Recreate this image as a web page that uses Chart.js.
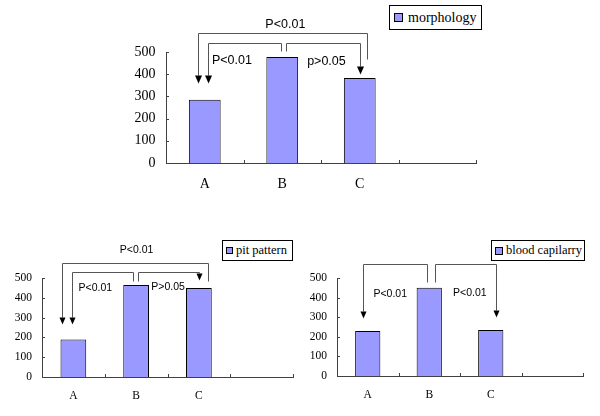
<!DOCTYPE html>
<html lang="en">
<head>
<meta charset="UTF-8">
<title>morphology / pit pattern / blood capilarry</title>
<script src="https://cdn.jsdelivr.net/npm/chart.js"></script>
<style>
  body { margin: 0; width: 600px; height: 416px; background: #fff; position: relative; overflow: hidden; font-family: "Liberation Serif", serif; }
  canvas { position: absolute; }
  .legend { position: absolute; border: 1px solid #000; background: #fff; box-sizing: border-box; display: flex; align-items: center; color: #000; white-space: nowrap; }
  .legend i { display: inline-block; background: #9999ff; border: 1px solid #000; box-sizing: border-box; }
</style>
</head>
<body>
<canvas id="morphologyChart" width="400" height="200" style="left:100px;top:0"></canvas>
<canvas id="pitChart" width="300" height="186" style="left:0;top:230px"></canvas>
<canvas id="capillaryChart" width="300" height="186" style="left:300px;top:230px"></canvas>

<div class="legend" style="left:389px;top:5px;width:93px;height:25px;font-size:14px;padding-left:4px">
  <i style="width:9px;height:9px;margin-right:5px"></i>morphology</div>
<div class="legend" style="left:222px;top:240px;width:71px;height:21px;font-size:12.5px;padding-left:3px">
  <i style="width:7px;height:7px;margin-right:3px"></i>pit pattern</div>
<div class="legend" style="left:491px;top:240px;width:94px;height:21px;font-size:12.5px;padding-left:3px">
  <i style="width:8px;height:8px;margin-right:3px"></i>blood capilarry</div>

<script>
// data
const categories = ['A', 'B', 'C', ''];
const morphologyValues = [285, 478, 383, null];
const pitPatternValues = [190, 465, 450, null];
const capillaryValues = [230, 450, 235, null];
const yMin = 0, yMax = 500, yStep = 100;

// brackets: points are [category position, value]; arrow drawn at last point
const morphologyMarks = {
  brackets: [
    [[2.095, 468], [2.095, 585], [-0.093, 585], [-0.093, 362]],
    [[0.988, 503], [0.988, 540], [0.036, 540], [0.036, 362]],
    [[1.05, 503], [1.05, 540], [2, 540], [2, 402]]
  ],
  arrowEnds: [true, true, true],
  labels: [['P<0.01', 1.04, 623], ['P<0.01', 0.35, 460], ['p>0.05', 1.57, 457]],
  font: '12.5px "Liberation Sans", Arial, sans-serif',
  arrow: [7, 8]
};
const pitMarks = {
  brackets: [
    [[2.145, 483], [2.145, 576], [-0.18, 576], [-0.18, 269]],
    [[0.954, 483], [0.954, 530], [-0.015, 530], [-0.015, 269]],
    [[1.033, 483], [1.033, 530], [2, 530], [2, 488]]
  ],
  arrowEnds: [true, true, true],
  labels: [['P<0.01', 1.008, 643], ['P<0.01', 0.35, 450], ['P>0.05', 1.51, 455]],
  font: '10.5px "Liberation Sans", Arial, sans-serif',
  arrow: [6, 7]
};
const capillaryMarks = {
  brackets: [
    [[0.96, 480], [0.96, 573], [-0.084, 573], [-0.084, 298]],
    [[1.094, 480], [1.094, 573], [2.084, 573], [2.084, 301]]
  ],
  arrowEnds: [true, true],
  labels: [['P<0.01', 0.366, 420], ['P<0.01', 1.66, 425]],
  font: '10.5px "Liberation Sans", Arial, sans-serif',
  arrow: [6, 7]
};

const markup = {
  id: 'markup',
  afterDatasetsDraw(chart, args, opts) {
    const ctx = chart.ctx, x = chart.scales.x, y = chart.scales.y;
    const step = x.getPixelForValue(1) - x.getPixelForValue(0);
    const px = p => Math.round(x.getPixelForValue(0) + p * step) + 0.5;
    const py = v => Math.round(y.getPixelForValue(v)) + 0.5;
    ctx.save();
    // small inward tick marks
    ctx.strokeStyle = '#404040';
    ctx.lineWidth = 1;
    ctx.beginPath();
    y.ticks.forEach((t, i) => {
      const yy = Math.round(y.getPixelForTick(i)) + 0.5;
      ctx.moveTo(x.left, yy); ctx.lineTo(x.left + 3, yy);
    });
    for (let i = 1; i <= categories.length; i++) {
      const xx = px(i - 0.5);
      ctx.moveTo(xx, y.bottom); ctx.lineTo(xx, y.bottom - 3);
    }
    ctx.stroke();

    // brackets with arrows
    const [aw, ah] = opts.arrow;
    opts.brackets.forEach((pts, k) => {
      const p = pts.map(([c, v]) => [px(c), py(v)]);
      const last = p[p.length - 1];
      ctx.strokeStyle = '#555';
      ctx.beginPath();
      ctx.moveTo(p[0][0], p[0][1]);
      for (let i = 1; i < p.length - 1; i++) ctx.lineTo(p[i][0], p[i][1]);
      ctx.lineTo(last[0], opts.arrowEnds[k] ? last[1] - ah : last[1]);
      ctx.stroke();
      if (opts.arrowEnds[k]) {
        ctx.fillStyle = '#000';
        ctx.beginPath();
        ctx.moveTo(last[0] - aw / 2, last[1] - ah);
        ctx.lineTo(last[0] + aw / 2, last[1] - ah);
        ctx.lineTo(last[0], last[1]);
        ctx.closePath();
        ctx.fill();
      }
    });

    ctx.fillStyle = '#000';
    ctx.font = opts.font;
    ctx.textAlign = 'center';
    ctx.textBaseline = 'middle';
    opts.labels.forEach(([txt, c, v]) => {
      ctx.fillText(txt, x.getPixelForValue(0) + c * step, y.getPixelForValue(v));
    });
    ctx.restore();
  }
};

function makeChart(id, values, label, marks, dims) {
  new Chart(document.getElementById(id), {
    type: 'bar',
    data: {
      labels: categories,
      datasets: [{
        label: label,
        data: values,
        backgroundColor: '#9999ff',
        borderColor: '#000',
        borderWidth: 1,
        barPercentage: 0.41,
        categoryPercentage: 1
      }]
    },
    options: {
      responsive: false,
      animation: false,
      devicePixelRatio: 1,
      layout: { padding: { top: dims.top, right: dims.right, left: 0, bottom: 0 } },
      plugins: {
        legend: { display: false },
        tooltip: { enabled: false },
        markup: marks
      },
      scales: {
        x: {
          grid: { display: false },
          border: { color: '#404040', width: 1 },
          ticks: { color: '#000', padding: dims.xPad, font: { family: '"Liberation Serif", serif', size: dims.font } },
          afterFit: s => { s.height = dims.xHeight; }
        },
        y: {
          min: yMin, max: yMax,
          grid: { display: false },
          border: { color: '#404040', width: 1 },
          ticks: { stepSize: yStep, color: '#000', padding: dims.yPad, font: { family: '"Liberation Serif", serif', size: dims.font } },
          afterFit: s => { s.width = dims.yWidth; }
        }
      }
    },
    plugins: [markup]
  });
}

makeChart('morphologyChart', morphologyValues, 'morphology', morphologyMarks,
  { top: 52, right: 24, xHeight: 37, yWidth: 66, font: 14, xPad: 5, yPad: 2.5 });
makeChart('pitChart', pitPatternValues, 'pit pattern', pitMarks,
  { top: 48, right: 7, xHeight: 39, yWidth: 42, font: 11.5, xPad: 4, yPad: 2 });
makeChart('capillaryChart', capillaryValues, 'blood capilarry', capillaryMarks,
  { top: 48, right: 17, xHeight: 40, yWidth: 37, font: 11.5, xPad: 4, yPad: 2 });
</script>
</body>
</html>
